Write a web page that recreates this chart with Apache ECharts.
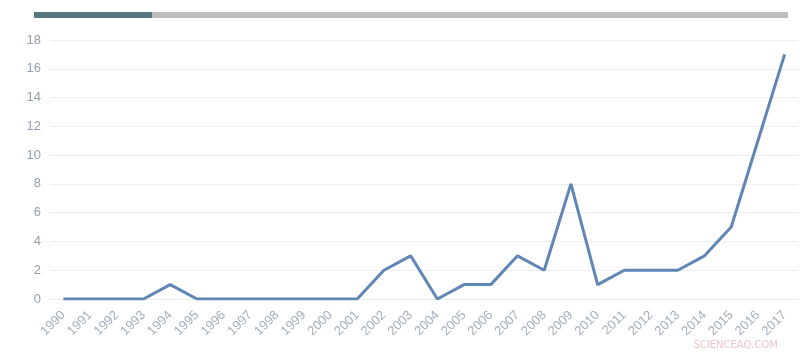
<!DOCTYPE html>
<html>
<head>
<meta charset="utf-8">
<script src="https://cdn.jsdelivr.net/npm/echarts@6/dist/echarts.min.js"></script>
<style>
  html, body { margin: 0; padding: 0; background: #fff; }
  #chart { width: 800px; height: 354px; }
</style>
</head>
<body>
<div id="chart"></div>
<script>
const years = ['1990', '1991', '1992', '1993', '1994', '1995', '1996', '1997', '1998', '1999',
  '2000', '2001', '2002', '2003', '2004', '2005', '2006', '2007', '2008', '2009',
  '2010', '2011', '2012', '2013', '2014', '2015', '2016', '2017']
const counts = [0, 0, 0, 0, 1, 0, 0, 0, 0, 0,
  0, 0, 2, 3, 0, 1, 1, 3, 2, 8,
  1, 2, 2, 2, 3, 5, 11, 17]

const chart = echarts.init(document.getElementById('chart'))

chart.setOption({
  animation: false,
  grid: {
    left: 50,
    right: 2,
    top: 40,
    bottom: 55
  },
  graphic: [
    {
      type: 'rect',
      shape: { x: 34, y: 12, width: 118, height: 6 },
      style: { fill: '#557780' }
    },
    {
      type: 'rect',
      shape: { x: 152, y: 12, width: 636, height: 6 },
      style: { fill: '#bdbdbd' }
    },
    {
      type: 'text',
      right: 22,
      bottom: 4,
      style: {
        text: 'SCIENCEAQ.COM',
        fill: '#f0c4c8',
        font: '10px "DejaVu Sans"'
      }
    }
  ],
  xAxis: {
    type: 'category',
    data: years,
    boundaryGap: true,
    axisLine: { show: false },
    axisTick: { show: false },
    axisLabel: {
      rotate: 45,
      interval: 0,
      color: '#a6afbd',
      fontSize: 13,
      margin: 14
    }
  },
  yAxis: {
    type: 'value',
    min: 0,
    max: 18,
    interval: 2,
    axisLine: { show: false },
    axisTick: { show: false },
    axisLabel: {
      color: '#959eab',
      fontSize: 13,
      margin: 9
    },
    splitLine: {
      lineStyle: { color: '#eceef2', width: 1 }
    }
  },
  series: [
    {
      type: 'line',
      data: counts,
      symbol: 'none',
      lineStyle: { color: '#5f86b5', width: 3 },
      itemStyle: { color: '#5f86b5' }
    }
  ]
})
</script>
</body>
</html>
